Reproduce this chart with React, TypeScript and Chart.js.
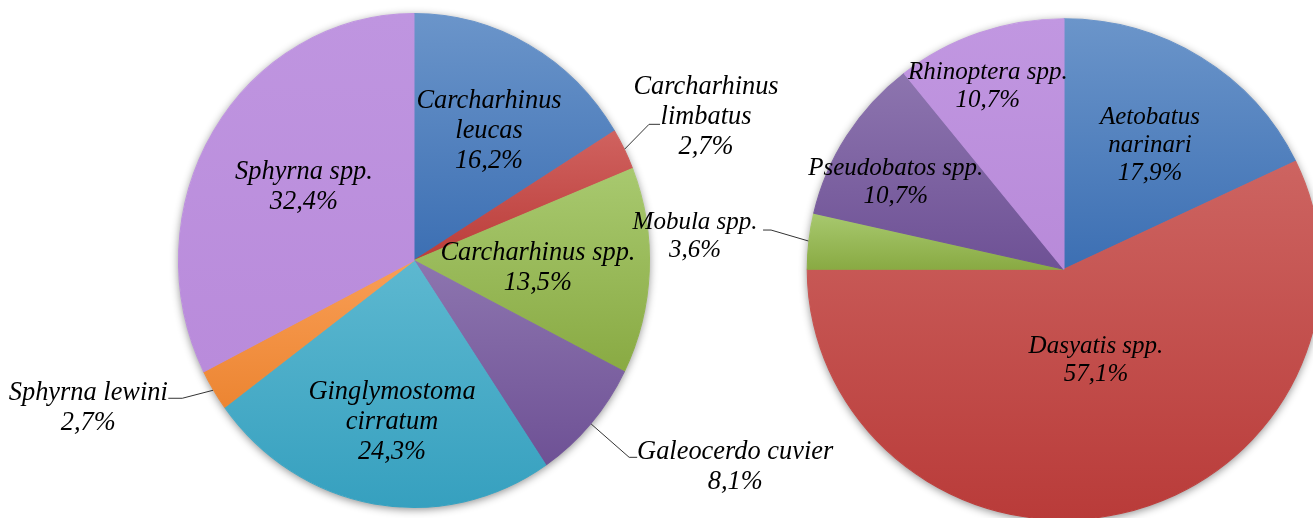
import React, { useEffect, useRef } from "react";
import { Chart, registerables } from "chart.js";

Chart.register(...registerables);

// ---------- DATA ----------
const sharkSpecies = [
  "Carcharhinus\nleucas",
  "Carcharhinus\nlimbatus",
  "Carcharhinus spp.",
  "Galeocerdo cuvier",
  "Ginglymostoma\ncirratum",
  "Sphyrna lewini",
  "Sphyrna spp.",
];
const sharkPercent = [16.2, 2.7, 13.5, 8.1, 24.3, 2.7, 32.4];

const raySpecies = [
  "Aetobatus\nnarinari",
  "Dasyatis spp.",
  "Mobula spp.",
  "Pseudobatos spp.",
  "Rhinoptera spp.",
];
const rayPercent = [17.9, 57.1, 3.6, 10.7, 10.7];

// ---------- STYLES ----------
const sharkTop = ["#6b95ca", "#d0625f", "#a8c96f", "#8d75af", "#5db8d0", "#f99e55", "#bf95e0"];
const sharkBottom = ["#3c6fb3", "#bb3d3a", "#89aa43", "#6e5195", "#36a0bf", "#ec8532", "#b98bdb"];
const rayTop = ["#6b95ca", "#cd6461", "#a8c96f", "#8d75af", "#c197e1"];
const rayBottom = ["#3c6fb3", "#b93b39", "#89aa43", "#6e5195", "#b88ad9"];

const FONT_FAMILY = '"Liberation Serif", "Times New Roman", "DejaVu Serif", serif';

type Place = { f: number; da: number; leader?: { ax: number; ay: number; h: number } };

const sharkPlace: Place[] = [
  { f: 0.612, da: 2.1 },
  { f: 1.366, da: 1.7, leader: { ax: -46, ay: 7, h: -11 } },
  { f: 0.526, da: 0.9 },
  { f: 1.597, da: -9.8, leader: { ax: -98, ay: -10, h: -8 } },
  { f: 0.659, da: -1.6 },
  { f: 1.503, da: 8.3, leader: { ax: 80, ay: -9.5, h: 14 } },
  { f: 0.553, da: 0.9 },
];
const rayPlace: Place[] = [
  { f: 0.597, da: 1.8 },
  { f: 0.384, da: -6.1 },
  { f: 1.44, da: -1.2, leader: { ax: 68, ay: -6, h: 8 } },
  { f: 0.74, da: -4.3 },
  { f: 0.788, da: -2.8 },
];

type PieCfg = {
  labels: string[];
  values: number[];
  top: string[];
  bottom: string[];
  place: Place[];
  cx: number;
  cy: number;
  rx: number;
  ry: number;
  R: number;
  fontSize: number;
  lineHeight: number;
};

const W = 1313;
const H = 518;

const leftCfg: PieCfg = {
  labels: sharkSpecies,
  values: sharkPercent,
  top: sharkTop,
  bottom: sharkBottom,
  place: sharkPlace,
  cx: 414,
  cy: 260.5,
  rx: 236,
  ry: 247.5,
  R: 240,
  fontSize: 26.4,
  lineHeight: 30,
};
const rightCfg: PieCfg = {
  labels: raySpecies,
  values: rayPercent,
  top: rayTop,
  bottom: rayBottom,
  place: rayPlace,
  cx: 1064,
  cy: 269.3,
  rx: 257.3,
  ry: 251,
  R: 240,
  fontSize: 25,
  lineHeight: 28,
};

const TAU = Math.PI * 2;

function sliceAngles(values: number[], i: number) {
  const total = values.reduce((a, b) => a + b, 0);
  let a0 = 0;
  for (let j = 0; j < i; j++) a0 += (values[j] / total) * TAU;
  const a1 = a0 + (values[i] / total) * TAU;
  return [a0, a1];
}

function makeGradient(c: any, cfg: PieCfg) {
  const i = c.dataIndex;
  if (i === undefined) return cfg.bottom[0];
  const chart = c.chart;
  const ca = chart.chartArea;
  if (!ca) return cfg.bottom[i];
  const cx = (ca.left + ca.right) / 2;
  const cy = (ca.top + ca.bottom) / 2;
  const r = Math.min(ca.right - ca.left, ca.bottom - ca.top) / 2;
  const [a0, a1] = sliceAngles(cfg.values, i);
  const ys = [cy, cy - r * Math.cos(a0), cy - r * Math.cos(a1)];
  for (let k = 0; k <= 2; k++) {
    const a = k * Math.PI;
    if (a >= a0 - 1e-6 && a <= a1 + 1e-6) ys.push(cy - r * Math.cos(a));
  }
  const y0 = Math.min(...ys);
  const y1 = Math.max(...ys);
  const g = chart.ctx.createLinearGradient(0, y0, 0, Math.max(y1, y0 + 1));
  g.addColorStop(0, cfg.top[i]);
  g.addColorStop(1, cfg.bottom[i]);
  return g;
}

function fmt(v: number) {
  return v.toFixed(1).replace(".", ",") + "%";
}

function PieCanvas({ cfg }: { cfg: PieCfg }) {
  const ref = useRef<HTMLCanvasElement | null>(null);
  useEffect(() => {
    if (!ref.current) return;
    const ellipsePlugin = {
      id: "ellipse",
      beforeDatasetsDraw(chart: any) {
        const arc = chart.getDatasetMeta(0).data[0] as any;
        const x = arc.x;
        const y = arc.y;
        const rEff = arc.outerRadius + 0.5;
        const sx = cfg.rx / rEff;
        const sy = cfg.ry / rEff;
        const ctx = chart.ctx;
        ctx.save();
        ctx.translate(x, y);
        ctx.scale(sx, sy);
        ctx.translate(-x, -y);
        ctx.save();
        ctx.shadowColor = "rgba(0,0,0,0.45)";
        ctx.shadowBlur = 9;
        ctx.shadowOffsetY = 2;
        ctx.fillStyle = "#ffffff";
        ctx.beginPath();
        ctx.arc(x, y, rEff - 0.5, 0, TAU);
        ctx.fill();
        ctx.restore();
      },
      afterDatasetsDraw(chart: any) {
        chart.ctx.restore();
      },
      afterDraw(chart: any) {
        const arc = chart.getDatasetMeta(0).data[0] as any;
        const x = arc.x;
        const y = arc.y;
        const ctx = chart.ctx;
        ctx.save();
        ctx.font = `italic ${cfg.fontSize}px ${FONT_FAMILY}`;
        ctx.fillStyle = "#000";
        ctx.textAlign = "center";
        ctx.textBaseline = "middle";
        cfg.values.forEach((v, i) => {
          const [a0, a1] = sliceAngles(cfg.values, i);
          const mid = (a0 + a1) / 2;
          const p = cfg.place[i];
          const a = mid + (p.da * Math.PI) / 180;
          const lx = x + p.f * Math.sin(a) * cfg.rx;
          const ly = y - p.f * Math.cos(a) * cfg.ry;
          const lines = [...cfg.labels[i].split("\n"), fmt(v)];
          lines.forEach((t, k) => {
            ctx.fillText(t, lx, ly + (k - (lines.length - 1) / 2) * cfg.lineHeight);
          });
          if (p.leader) {
            const ex = x + Math.sin(mid) * cfg.rx;
            const ey = y - Math.cos(mid) * cfg.ry;
            const p2x = lx + p.leader.ax;
            const p2y = ly + p.leader.ay;
            const p1x = p2x + p.leader.h;
            ctx.save();
            ctx.strokeStyle = "#333";
            ctx.lineWidth = 1;
            ctx.beginPath();
            ctx.moveTo(ex, ey);
            ctx.lineTo(p1x, p2y);
            ctx.lineTo(p2x, p2y);
            ctx.stroke();
            ctx.restore();
          }
        });
        ctx.restore();
      },
    };

    const chart = new Chart(ref.current, {
      type: "pie",
      data: {
        labels: cfg.labels.map((l) => l.replace("\n", " ")),
        datasets: [
          {
            data: cfg.values,
            backgroundColor: (c: any) => makeGradient(c, cfg),
            borderColor: (c: any) => makeGradient(c, cfg),
            borderWidth: 1,
            hoverOffset: 0,
          },
        ],
      },
      options: {
        responsive: false,
        animation: false,
        events: [],
        layout: {
          padding: {
            left: cfg.cx - cfg.R,
            right: W - (cfg.cx + cfg.R),
            top: cfg.cy - cfg.R,
            bottom: H - (cfg.cy + cfg.R),
          },
        },
        plugins: {
          legend: { display: false },
          tooltip: { enabled: false },
          title: { display: false },
        },
      },
      plugins: [ellipsePlugin],
    } as any);
    let alive = true;
    const fonts: any = (document as any).fonts;
    if (fonts && fonts.load) {
      fonts
        .load(`italic ${cfg.fontSize}px "Liberation Serif"`)
        .then(() => fonts.ready)
        .then(() => {
          if (alive) chart.draw();
        })
        .catch(() => {});
    }
    return () => {
      alive = false;
      chart.destroy();
    };
  }, [cfg]);
  return (
    <canvas
      ref={ref}
      width={W}
      height={H}
      style={{ position: "absolute", left: 0, top: 0, width: W, height: H }}
    />
  );
}

export default function App() {
  return (
    <div
      style={{
        position: "fixed",
        left: 0,
        top: 0,
        width: W,
        height: H,
        overflow: "hidden",
        background: "#ffffff",
      }}
    >
      <span
        style={{
          position: "absolute",
          left: -9999,
          top: 0,
          fontFamily: FONT_FAMILY,
          fontStyle: "italic",
          fontSize: 24,
        }}
      >
        Carcharhinus 16,2%
      </span>
      <PieCanvas cfg={leftCfg} />
      <PieCanvas cfg={rightCfg} />
    </div>
  );
}
